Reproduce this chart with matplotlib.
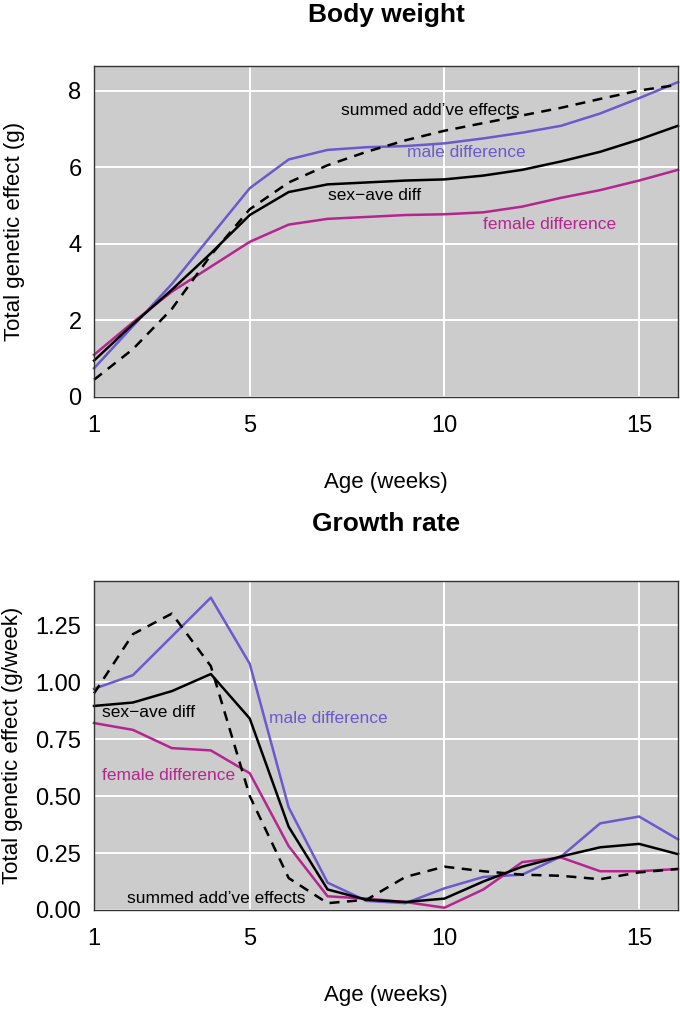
import numpy as np
import matplotlib
matplotlib.use('Agg')
import matplotlib.pyplot as plt
from matplotlib.ticker import FormatStrFormatter

plt.rcParams['font.family'] = ['Liberation Sans', 'DejaVu Sans']

weeks = np.arange(1, 17)

# body weight (g)
bw_male = [0.75, 1.85, 2.95, 4.2, 5.45, 6.2, 6.45, 6.52, 6.55, 6.62, 6.75, 6.9, 7.08, 7.4, 7.8, 8.22]
bw_ave = [0.95, 1.9, 2.8, 3.75, 4.75, 5.35, 5.55, 5.6, 5.65, 5.68, 5.78, 5.93, 6.15, 6.4, 6.72, 7.08]
bw_female = [1.1, 1.95, 2.75, 3.4, 4.05, 4.5, 4.65, 4.7, 4.75, 4.77, 4.82, 4.97, 5.2, 5.4, 5.65, 5.93]
bw_summed = [0.45, 1.25, 2.3, 3.7, 4.9, 5.6, 6.05, 6.4, 6.7, 6.95, 7.15, 7.35, 7.55, 7.78, 8.0, 8.15]

# growth rate (g/week)
gr_male = [0.97, 1.03, 1.2, 1.37, 1.08, 0.45, 0.12, 0.04, 0.03, 0.095, 0.145, 0.155, 0.235, 0.38, 0.41, 0.31]
gr_ave = [0.895, 0.91, 0.96, 1.035, 0.84, 0.365, 0.09, 0.045, 0.035, 0.05, 0.125, 0.19, 0.235, 0.275, 0.29, 0.245]
gr_female = [0.82, 0.79, 0.71, 0.70, 0.60, 0.28, 0.06, 0.05, 0.035, 0.01, 0.09, 0.21, 0.23, 0.17, 0.17, 0.18]
gr_summed = [0.95, 1.21, 1.30, 1.07, 0.50, 0.14, 0.03, 0.045, 0.145, 0.19, 0.17, 0.155, 0.15, 0.135, 0.165, 0.18]

BLUE = '#6A5ACD'
MAGENTA = '#B5258F'
BG = '#CCCCCC'

W, H = 680, 1009
fig = plt.figure(figsize=(W / 100, H / 100), dpi=100)


def box(l, t, r, b):
    return [l / W, 1 - b / H, (r - l) / W, (b - t) / H]


def style(ax, ylim, yticks):
    ax.set_facecolor(BG)
    ax.set_xlim(1, 16)
    ax.set_ylim(*ylim)
    ax.set_xticks([1, 5, 10, 15])
    ax.set_yticks(yticks)
    ax.grid(True, color='white', linewidth=1.4)
    ax.set_axisbelow(True)
    ax.tick_params(length=0, labelsize=17)
    ax.tick_params(axis='x', pad=13)
    ax.tick_params(axis='y', pad=9)
    for s in ax.spines.values():
        s.set_color('#333333')
        s.set_linewidth(1.0)
    ax.set_xlabel('Age (weeks)', fontsize=16, labelpad=25)


def draw(ax, male, ave, female, summed):
    ax.plot(weeks, male, color=BLUE, lw=1.8, clip_on=False)
    ax.plot(weeks, female, color=MAGENTA, lw=1.8, clip_on=False)
    ax.plot(weeks, ave, color='black', lw=1.8, clip_on=False)
    ax.plot(weeks, summed, color='black', lw=1.8, dashes=(4, 3), clip_on=False)


# top panel
ax1 = fig.add_axes(box(94, 66, 678, 397))
style(ax1, (0, 8.64), [0, 2, 4, 6, 8])
draw(ax1, bw_male, bw_ave, bw_female, bw_summed)
ax1.set_ylabel('Total genetic effect (g)', fontsize=16, labelpad=31)
ax1.text(9.63, 7.47, "summed add\u2019ve effects", fontsize=12.5, color='black', ha='center', va='center')
ax1.text(10.55, 6.37, 'male difference', fontsize=12.5, color=BLUE, ha='center', va='center')
ax1.text(8.2, 5.25, 'sex\u2212ave diff', fontsize=12.5, color='black', ha='center', va='center')
ax1.text(12.7, 4.49, 'female difference', fontsize=12.5, color=MAGENTA, ha='center', va='center')
fig.text(386 / W, 1 - 15 / H, 'Body weight', fontsize=19, fontweight='bold', ha='center', va='center')

# bottom panel
ax2 = fig.add_axes(box(94, 581, 678, 910))
style(ax2, (0, 1.443), [0, 0.25, 0.5, 0.75, 1.0, 1.25])
ax2.yaxis.set_major_formatter(FormatStrFormatter('%.2f'))
draw(ax2, gr_male, gr_ave, gr_female, gr_summed)
ax2.set_ylabel('Total genetic effect (g/week)', fontsize=16, labelpad=9)
ax2.text(1.2, 0.865, 'sex\u2212ave diff', fontsize=12.5, color='black', ha='left', va='center')
ax2.text(5.5, 0.84, 'male difference', fontsize=12.5, color=BLUE, ha='left', va='center')
ax2.text(1.2, 0.59, 'female difference', fontsize=12.5, color=MAGENTA, ha='left', va='center')
ax2.text(1.85, 0.05, "summed add\u2019ve effects", fontsize=12.5, color='black', ha='left', va='center')
fig.text(386 / W, 1 - 524 / H, 'Growth rate', fontsize=19, fontweight='bold', ha='center', va='center')

fig.savefig('out.png', dpi=100)
